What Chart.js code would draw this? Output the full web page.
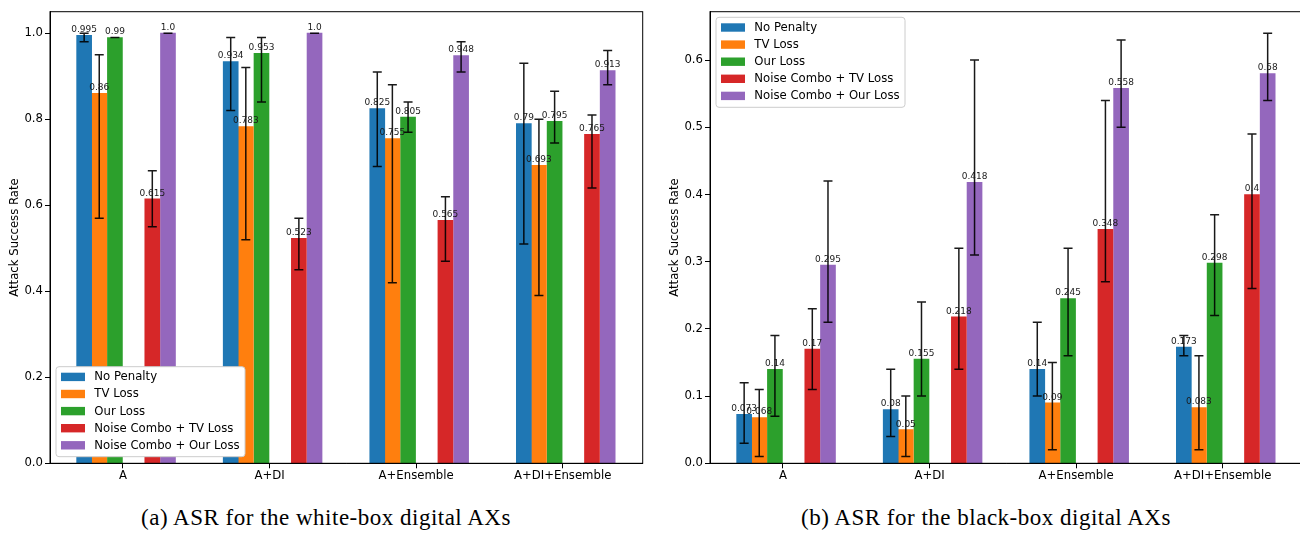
<!DOCTYPE html>
<html>
<head>
<meta charset="utf-8">
<title>Attack Success Rate</title>
<script src="https://cdn.jsdelivr.net/npm/chart.js@4.4.1/dist/chart.umd.min.js"></script>
<style>
  html, body { margin: 0; padding: 0; background: #fff; }
  #page { position: relative; width: 1300px; height: 533px; overflow: hidden; background: #fff; }
  .panel { position: absolute; top: 0; }
  #wbPanel { left: 0; }
  #bbPanel { left: 660px; }
  .caption {
    position: absolute; top: 505px; white-space: nowrap; line-height: 26px;
    font-family: 'Liberation Serif', 'DejaVu Serif', serif; font-size: 23px; letter-spacing: 0.5px; color: #000;
    transform: translateX(-50%);
  }
</style>
</head>
<body>
<div id="page">
  <div class="panel" id="wbPanel"><canvas id="wbChart" width="650" height="490"></canvas></div>
  <div class="panel" id="bbPanel"><canvas id="bbChart" width="660" height="490"></canvas></div>
  <div class="caption" style="left:326px">(a) ASR for the white-box digital AXs</div>
  <div class="caption" style="left:986px">(b) ASR for the black-box digital AXs</div>
</div>
<script>
// ---- data ----
const categories = ['A', 'A+DI', 'A+Ensemble', 'A+DI+Ensemble'];
const seriesNames = ['No Penalty', 'TV Loss', 'Our Loss', 'Noise Combo + TV Loss', 'Noise Combo + Our Loss'];

// white-box attack success rate, with error-bar bounds
const wbNoPenalty     = [0.995, 0.934, 0.825, 0.79];
const wbNoPenaltyLow  = [0.98, 0.82, 0.69, 0.51];
const wbNoPenaltyHigh = [1.0, 0.99, 0.91, 0.93];
const wbTV            = [0.86, 0.783, 0.755, 0.693];
const wbTVLow         = [0.57, 0.52, 0.42, 0.39];
const wbTVHigh        = [0.95, 0.92, 0.88, 0.80];
const wbOur           = [0.99, 0.953, 0.805, 0.795];
const wbOurLow        = [0.99, 0.84, 0.77, 0.745];
const wbOurHigh       = [0.99, 0.99, 0.84, 0.865];
const wbNoiseTV       = [0.615, 0.523, 0.565, 0.765];
const wbNoiseTVLow    = [0.55, 0.45, 0.47, 0.64];
const wbNoiseTVHigh   = [0.68, 0.57, 0.62, 0.81];
const wbNoiseOur      = [1.0, 1.0, 0.948, 0.913];
const wbNoiseOurLow   = [1.0, 1.0, 0.91, 0.88];
const wbNoiseOurHigh  = [1.0, 1.0, 0.98, 0.96];

// black-box attack success rate, with error-bar bounds
const bbNoPenalty     = [0.073, 0.08, 0.14, 0.173];
const bbNoPenaltyLow  = [0.03, 0.04, 0.10, 0.16];
const bbNoPenaltyHigh = [0.12, 0.14, 0.21, 0.19];
const bbTV            = [0.068, 0.05, 0.09, 0.083];
const bbTVLow         = [0.01, 0.01, 0.02, 0.02];
const bbTVHigh        = [0.11, 0.10, 0.15, 0.16];
const bbOur           = [0.14, 0.155, 0.245, 0.298];
const bbOurLow        = [0.07, 0.10, 0.16, 0.22];
const bbOurHigh       = [0.19, 0.24, 0.32, 0.37];
const bbNoiseTV       = [0.17, 0.218, 0.348, 0.4];
const bbNoiseTVLow    = [0.11, 0.14, 0.27, 0.26];
const bbNoiseTVHigh   = [0.23, 0.32, 0.54, 0.49];
const bbNoiseOur      = [0.295, 0.418, 0.558, 0.58];
const bbNoiseOurLow   = [0.21, 0.31, 0.50, 0.54];
const bbNoiseOurHigh  = [0.42, 0.60, 0.63, 0.64];

// ---- style ----
const colors = ['#1f77b4', '#ff7f0e', '#2ca02c', '#d62728', '#9467bd'];
const groupOffsets = [-0.265, -0.162, -0.055, 0.2, 0.307];  // bar centres around each category
const FONT = 'DejaVu Sans';
Chart.defaults.font.family = FONT;
Chart.defaults.color = '#000';

const fmt = v => Number.isInteger(v) ? v.toFixed(1) : String(v);

function buildDatasets(values, lows, highs) {
  return values.map((vals, s) => ({
    label: seriesNames[s],
    data: vals.map((v, i) => ({ x: i + groupOffsets[s], y: v })),
    errLow: lows[s],
    errHigh: highs[s],
    backgroundColor: colors[s],
    borderWidth: 0,
    barThickness: 15,
    grouped: false
  }));
}

// error bars + value labels on top of each bar
const barExtras = {
  id: 'barExtras',
  afterDatasetsDraw(chart) {
    const { ctx } = chart;
    const y = chart.scales.y;
    ctx.save();
    chart.data.datasets.forEach((ds, i) => {
      chart.getDatasetMeta(i).data.forEach((bar, j) => {
        const lo = y.getPixelForValue(ds.errLow[j]);
        const hi = y.getPixelForValue(ds.errHigh[j]);
        ctx.strokeStyle = 'rgba(0,0,0,0.9)';
        ctx.lineWidth = 1.5;
        ctx.beginPath();
        ctx.moveTo(bar.x, lo); ctx.lineTo(bar.x, hi);
        ctx.moveTo(bar.x - 4.5, lo); ctx.lineTo(bar.x + 4.5, lo);
        ctx.moveTo(bar.x - 4.5, hi); ctx.lineTo(bar.x + 4.5, hi);
        ctx.stroke();
      });
    });
    ctx.fillStyle = '#1a1a1a';
    ctx.font = '9px "' + FONT + '"';
    ctx.textAlign = 'center';
    ctx.textBaseline = 'bottom';
    chart.data.datasets.forEach((ds, i) => {
      chart.getDatasetMeta(i).data.forEach((bar, j) => {
        ctx.fillText(fmt(ds.data[j].y), bar.x, bar.y - 1);
      });
    });
    ctx.restore();
  }
};

// axes frame and the boxed legend inside the plot
const frameAndLegend = {
  id: 'frameAndLegend',
  afterDraw(chart, args, opts) {
    const { ctx, chartArea: a } = chart;
    ctx.save();
    ctx.strokeStyle = '#000';
    ctx.lineWidth = 1;
    ctx.strokeRect(a.left, a.top, a.right - a.left, a.bottom - a.top);

    const boxW = 189, boxH = 90, pitch = 17.1;
    const bx = a.left + 6;
    const by = opts.corner === 'lower' ? a.bottom - 6.6 - boxH : a.top + 5.6;
    ctx.beginPath();
    ctx.roundRect(bx, by, boxW, boxH, 3);
    ctx.fillStyle = '#fff';
    ctx.fill();
    ctx.strokeStyle = '#cccccc';
    ctx.stroke();
    ctx.font = '11.7px "' + FONT + '"';
    ctx.textAlign = 'left';
    ctx.textBaseline = 'middle';
    chart.data.datasets.forEach((ds, i) => {
      const ry = by + 6 + i * pitch;
      ctx.fillStyle = ds.backgroundColor;
      ctx.fillRect(bx + 5, ry, 24, 8.4);
      ctx.fillStyle = '#000';
      ctx.fillText(ds.label, bx + 38.3, ry + 4.6);
    });
    ctx.restore();
  }
};

function makeChart(canvasId, datasets, yMax, yStep, rightPad, corner) {
  return new Chart(document.getElementById(canvasId), {
    type: 'bar',
    data: { datasets },
    options: {
      responsive: false,
      animation: false,
      events: [],
      layout: { padding: { left: 0, top: 11.7, right: rightPad, bottom: 1.7 } },
      plugins: {
        legend: { display: false },
        tooltip: { enabled: false },
        frameAndLegend: { corner }
      },
      scales: {
        x: {
          type: 'linear',
          min: -0.498,
          max: 3.546,
          offset: false,
          afterBuildTicks: s => { s.ticks = categories.map((_, i) => ({ value: i })); },
          afterFit: s => { s.height = 25; },
          ticks: {
            callback: v => categories[v],
            font: { size: 11.7 },
            color: '#000',
            padding: 1,
            maxRotation: 0,
            autoSkip: false
          },
          grid: { display: true, drawOnChartArea: false, drawTicks: true, tickLength: 5, tickColor: '#000', offset: false },
          border: { display: true, color: '#000' }
        },
        y: {
          min: 0,
          max: yMax,
          afterFit: s => { s.width = 50; },
          ticks: {
            stepSize: yStep,
            includeBounds: false,
            callback: v => v.toFixed(1),
            font: { size: 11.7 },
            color: '#000',
            padding: 2
          },
          title: {
            display: true,
            text: 'Attack Success Rate',
            font: { size: 11.7 },
            color: '#000',
            padding: { top: 7.7, bottom: 0 }
          },
          grid: { display: true, drawOnChartArea: false, drawTicks: true, tickLength: 5, tickColor: '#000' },
          border: { display: true, color: '#000' }
        }
      }
    },
    plugins: [barExtras, frameAndLegend]
  });
}

makeChart('wbChart',
  buildDatasets(
    [wbNoPenalty, wbTV, wbOur, wbNoiseTV, wbNoiseOur],
    [wbNoPenaltyLow, wbTVLow, wbOurLow, wbNoiseTVLow, wbNoiseOurLow],
    [wbNoPenaltyHigh, wbTVHigh, wbOurHigh, wbNoiseTVHigh, wbNoiseOurHigh]),
  1.05, 0.2, 7.3, 'lower');

makeChart('bbChart',
  buildDatasets(
    [bbNoPenalty, bbTV, bbOur, bbNoiseTV, bbNoiseOur],
    [bbNoPenaltyLow, bbTVLow, bbOurLow, bbNoiseTVLow, bbNoiseOurLow],
    [bbNoPenaltyHigh, bbTVHigh, bbOurHigh, bbNoiseTVHigh, bbNoiseOurHigh]),
  0.672, 0.1, 17.3, 'upper');
</script>
</body>
</html>
